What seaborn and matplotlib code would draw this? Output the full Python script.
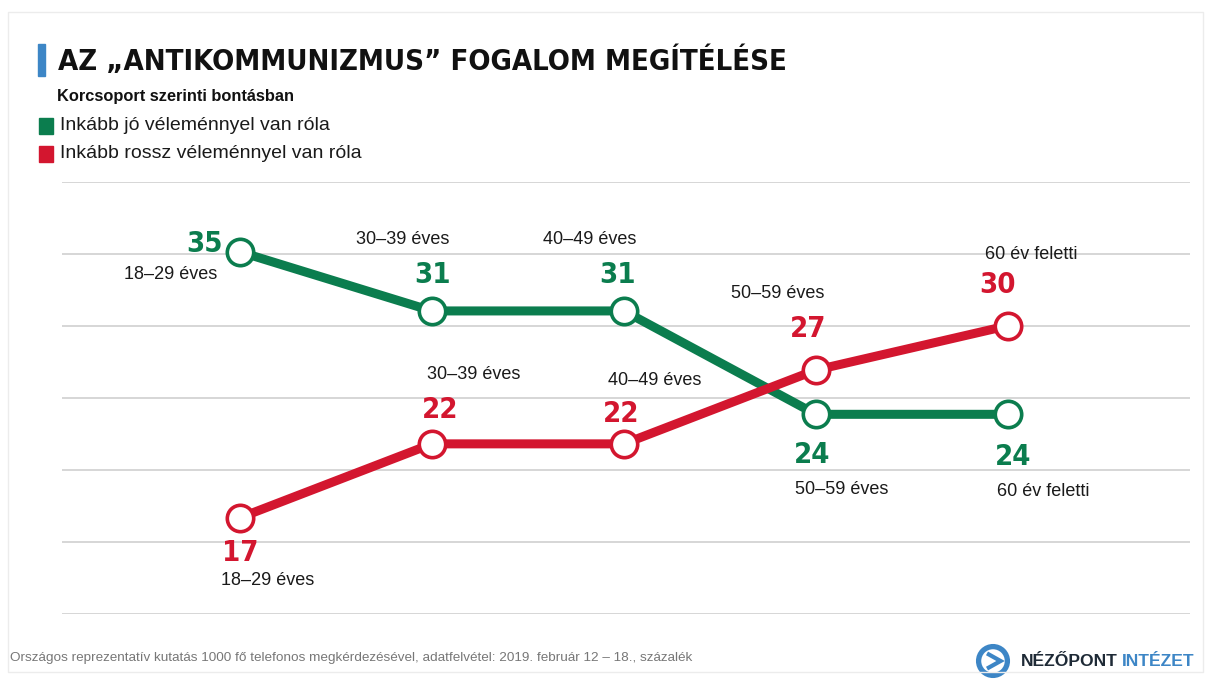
import numpy as np
import pandas as pd
import matplotlib
matplotlib.use("Agg")
import matplotlib.pyplot as plt
import matplotlib.patches as mpatches
from matplotlib import font_manager
import seaborn as sns

# ──────────────────────────────────────────────
# Data
# ──────────────────────────────────────────────
AGE_GROUPS = ["18–29 éves", "30–39 éves", "40–49 éves", "50–59 éves", "60 év feletti"]
GOOD_OPINION = [35, 31, 31, 24, 24]
BAD_OPINION = [17, 22, 22, 27, 30]
SERIES_NAMES = ["Inkább jó véleménnyel van róla", "Inkább rossz véleménnyel van róla"]

TITLE = "AZ „ANTIKOMMUNIZMUS” FOGALOM MEGÍTÉLÉSE"
SUBTITLE = "Korcsoport szerinti bontásban"
FOOTNOTE = ("Országos reprezentatív kutatás 1000 fő telefonos megkérdezésével, "
            "adatfelvétel: 2019. február 12 – 18., százalék")

GREEN = "#0b7d4e"
RED = "#d3162f"
BLUE = "#3d86c6"

REGULAR = ["Liberation Sans", "DejaVu Sans"]

# use a condensed face for the headline figures if one is installed
HAS_CONDENSED = any(f.name == "DejaVu Sans" and f.stretch == "condensed"
                    for f in font_manager.fontManager.ttflist)
if HAS_CONDENSED:
    BIG = dict(family=["DejaVu Sans"], fontstretch="condensed")
    TITLE_SIZE, NUM_SIZE = 21, 21
else:
    BIG = dict(family=REGULAR)
    TITLE_SIZE, NUM_SIZE = 19, 20

sns.set_theme(style="white")
plt.rcParams["font.family"] = REGULAR

df = pd.DataFrame({
    "pos": list(range(len(AGE_GROUPS))) * 2,
    "value": GOOD_OPINION + BAD_OPINION,
    "series": [SERIES_NAMES[0]] * len(AGE_GROUPS) + [SERIES_NAMES[1]] * len(AGE_GROUPS),
})

W, H = 1209, 680
fig = plt.figure(figsize=(W / 100, H / 100), dpi=100)
fig.patch.set_facecolor("white")

# axes placed so the grid spans the same pixels as the reference
ax = fig.add_axes([62 / W, 1 - 614 / H, (1190 - 62) / W, (614 - 182) / H])
ax.set_facecolor("none")

ymin, ymax = 10.48, 39.73
ax.set_ylim(ymin, ymax)
ax.set_xlim(-0.927, 4.948)
for g in np.linspace(ymin, ymax, 7):
    ax.axhline(g, color="#cfcfcf", lw=1.2, zorder=0)

sns.lineplot(data=df, x="pos", y="value", hue="series",
             palette=[GREEN, RED], linewidth=6.5, marker="o",
             markersize=19, legend=False, ax=ax, zorder=3)
for line, col in zip(ax.lines[-2:], [GREEN, RED]):
    line.set_markerfacecolor("white")
    line.set_markeredgecolor(col)
    line.set_markeredgewidth(2.6)
    line.set_solid_capstyle("butt")

sns.despine(ax=ax, left=True, bottom=True)
ax.set_xticks([])
ax.set_yticks([])
ax.set_xlabel("")
ax.set_ylabel("")

# label offsets in pixels: (value dx, dy), (age dx, dy)
good_offsets = [((-35, 8), (-69, -23)), ((1, 36), (-29, 71)), ((-6, 36), (-34, 71)),
                ((-4, -41), (26, -75)), ((5, -43), (35, -77))]
bad_offsets = [((0, -35), (28, -63)), ((8, 34), (42, 69)), ((-3, 30), (31, 63)),
               ((-8, 41), (-38, 77)), ((-10, 41), (23, 71))]

for vals, offs, col in [(GOOD_OPINION, good_offsets, GREEN), (BAD_OPINION, bad_offsets, RED)]:
    for i, (v, (vo, lo)) in enumerate(zip(vals, offs)):
        ax.annotate(str(v), (i, v), xytext=vo, textcoords="offset pixels",
                    ha="center", va="center", fontsize=NUM_SIZE, fontweight="bold",
                    color=col, zorder=5, **BIG)
        ax.annotate(AGE_GROUPS[i], (i, v), xytext=lo, textcoords="offset pixels",
                    ha="center", va="center", fontsize=13, family=REGULAR,
                    color="#1a1a1a", zorder=5)

# ──────────────────────────────────────────────
# Header, legend, footer
# ──────────────────────────────────────────────
def px(x, y):
    return x / W, 1 - y / H

fig.patches.append(mpatches.Rectangle(px(8, 672), (1203 - 8) / W, (672 - 12) / H,
                                      transform=fig.transFigure, fill=False,
                                      edgecolor="#ececec", lw=1))
fig.patches.append(mpatches.Rectangle(px(38, 76), 7 / W, 32 / H,
                                      transform=fig.transFigure, color=BLUE))
fig.text(*px(58, 61), TITLE, fontsize=TITLE_SIZE, fontweight="bold",
         color="#111111", va="center", ha="left", **BIG)
fig.text(*px(57, 96), SUBTITLE, fontsize=11.8, fontweight="bold", family=REGULAR,
         color="#111111", va="center", ha="left")

for j, (name, col) in enumerate(zip(SERIES_NAMES, [GREEN, RED])):
    yc = 126 + 28 * j
    fig.patches.append(mpatches.Rectangle(px(39, yc + 7.5), 14 / W, 15 / H,
                                          transform=fig.transFigure, color=col))
    fig.text(*px(60, yc), name, fontsize=14, family=REGULAR, color="#1a1a1a",
             va="center", ha="left")

fig.text(*px(10, 658), FOOTNOTE, fontsize=9.7, family=REGULAR, color="#777777",
         va="center", ha="left")

# logo
cx, cy = px(993, 661)
logo_ax = fig.add_axes([cx - 20 / W, cy - 20 / H, 40 / W, 40 / H])
logo_ax.set_xlim(-1, 1)
logo_ax.set_ylim(-1, 1)
logo_ax.set_aspect("equal")
logo_ax.axis("off")
logo_ax.add_patch(mpatches.Circle((0, 0), 0.72, fill=False, edgecolor=BLUE, lw=3.8))
logo_ax.add_patch(mpatches.Polygon([[-0.3, 0.38], [0.38, 0], [-0.3, -0.38]],
                                   closed=False, fill=False, edgecolor=BLUE, lw=3))
fig.text(*px(1021, 662), "NÉZŐPONT", fontsize=12.6, fontweight="bold",
         family=REGULAR, color="#1e2a36", va="center", ha="left")
fig.text(*px(1122, 662), "INTÉZET", fontsize=12.6, fontweight="bold",
         family=REGULAR, color=BLUE, va="center", ha="left")

fig.savefig("out.png", dpi=100)
